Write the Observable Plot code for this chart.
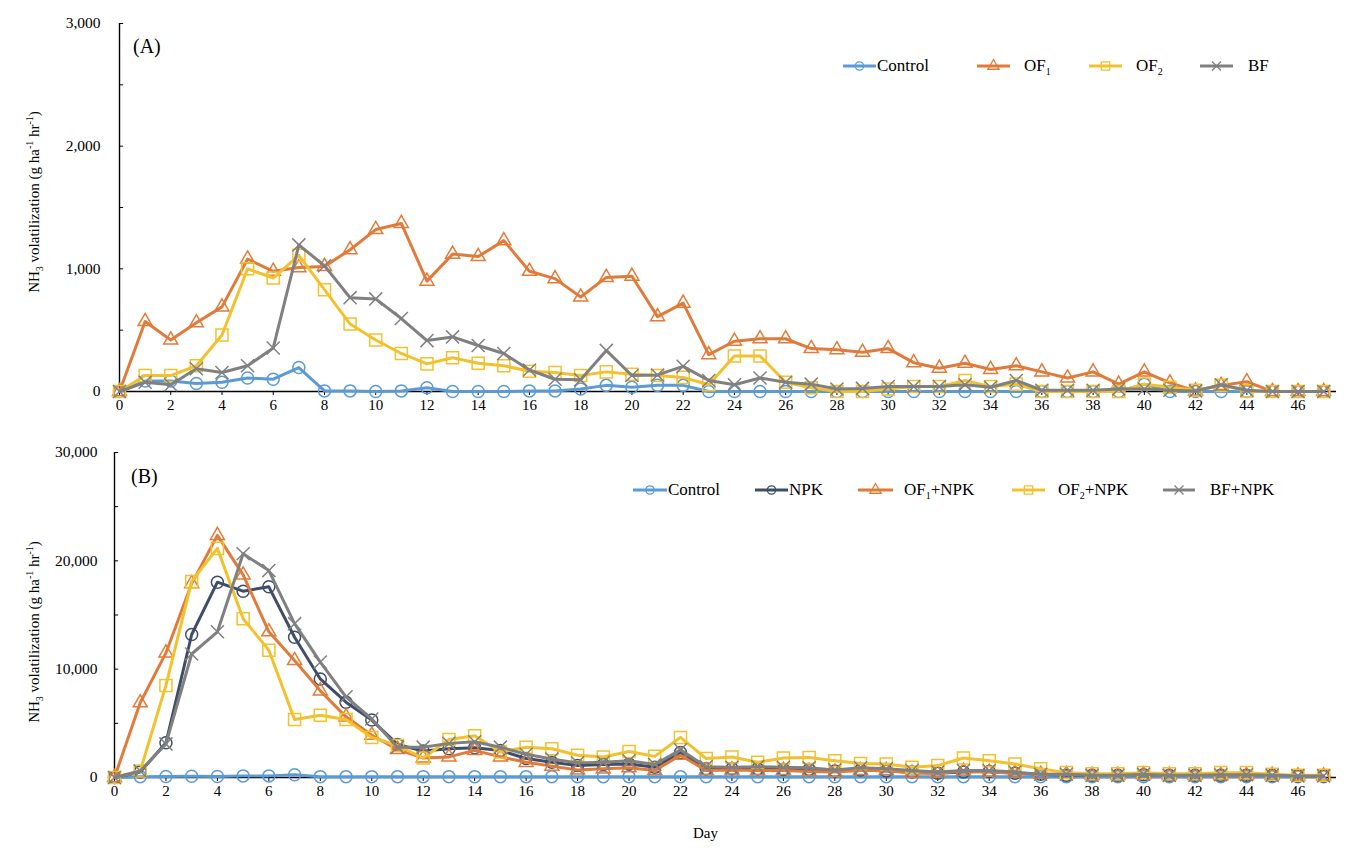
<!DOCTYPE html>
<html>
<head>
<meta charset="utf-8">
<script src="https://cdn.jsdelivr.net/npm/d3@7"></script>
<script src="https://cdn.jsdelivr.net/npm/@observablehq/plot@0.6"></script>
<style>
  html, body { margin: 0; padding: 0; background: #fff; }
  #wrap { position: relative; width: 1351px; height: 852px; color: #000; }
  #wrap svg.plot { position: absolute; left: 0; overflow: visible; }
  .lab { position: absolute; white-space: nowrap; line-height: 1; }
  .ytitle { position: absolute; white-space: nowrap; font-size: 15px; transform: translate(-50%, -50%) rotate(-90deg); line-height: 1; }
  .ytitle sub, .ytitle sup, .leg sub { font-size: 10px; line-height: 0; }
  .leg { position: absolute; display: flex; align-items: center; font-size: 17px; white-space: nowrap; }
</style>
</head>
<body>
<div id="wrap"></div>
<script>
// ---------- data ----------
const days = [0,1,2,3,4,5,6,7,8,9,10,11,12,13,14,15,16,17,18,19,20,21,22,23,24,25,26,27,28,29,30,31,32,33,34,35,36,37,38,39,40,41,42,43,44,45,46,47];
const xTickLabels = [0,2,4,6,8,10,12,14,16,18,20,22,24,26,28,30,32,34,36,38,40,42,44,46];

// Panel A (g ha-1 hr-1)
const seriesA = ["Control", "OF1", "OF2", "BF"];
const controlA = [0,85,85,65,75,110,100,195,5,5,0,5,30,0,0,0,5,5,20,50,35,50,50,0,0,0,0,0,0,0,0,0,0,0,0,0,0,0,0,0,60,0,0,0,0,0,0,0];
const of1A = [0,570,420,560,690,1080,980,1010,1020,1156,1320,1370,900,1120,1100,1230,980,920,770,930,940,610,720,300,410,430,430,350,340,320,350,235,190,230,180,210,160,110,160,60,160,70,5,50,80,0,0,0];
const of2A = [0,130,130,210,460,1000,925,1110,830,550,420,310,225,275,230,210,165,155,130,160,140,130,115,55,290,290,75,30,0,0,20,40,40,90,40,60,0,0,0,0,60,35,10,50,5,0,0,0];
const bfA = [0,75,55,185,155,210,355,1195,1025,765,755,595,415,445,375,310,175,100,95,335,130,135,205,90,55,110,75,60,20,25,40,40,40,55,35,90,10,10,10,20,20,10,5,55,10,0,0,0];
const yTicksA = [0,1000,2000,3000];
const yMinorA = [500,1500,2500];

// Panel B (g ha-1 hr-1)
const seriesB = ["Control", "NPK", "OF1+NPK", "OF2+NPK", "BF+NPK"];
const controlB = [0,80,100,110,100,150,150,250,80,80,80,80,80,80,80,80,80,80,80,80,80,80,80,80,80,80,80,80,80,80,80,80,80,80,80,80,80,80,80,80,80,80,80,80,80,80,80,80];
const npkB = [0,500,3200,13200,18030,17200,17600,12950,9100,6950,5300,3050,2450,2650,2750,2500,1750,1400,1100,1200,1250,950,2300,800,800,800,750,750,600,700,600,500,400,500,550,400,300,200,200,200,250,200,200,200,200,200,150,150];
const of1B = [0,6900,11500,17900,22350,18700,13450,10800,8000,5600,3900,2600,1800,1900,2500,1900,1400,1050,700,800,900,650,2050,650,700,650,650,550,500,650,650,400,400,600,500,400,300,300,200,200,250,200,200,200,200,200,150,150];
const of2B = [0,600,8500,18100,21150,14650,11750,5350,5750,5350,3700,2950,1800,3500,3850,2350,2800,2650,2050,1900,2400,1950,3700,1750,1900,1400,1800,1850,1550,1300,1250,950,1100,1800,1550,1250,800,450,350,350,450,350,350,450,450,300,200,200];
const bfB = [0,600,3100,11400,13450,20650,19100,14200,10650,7450,5400,2800,2800,3150,3300,2800,2150,1700,1350,1400,1550,1200,2550,1000,950,1000,950,900,700,900,800,650,500,650,650,500,300,300,200,200,300,200,200,250,250,200,150,150];
const yTicksB = [0,10000,20000,30000];
const yMinorB = [5000,15000,25000];

// ---------- font detection ----------
function fontAvailable(name) {
  const c = document.createElement("canvas").getContext("2d");
  const txt = "mmmmmmmmmmlli1,000 Control";
  const res = [];
  for (const base of ["monospace", "sans-serif"]) {
    c.font = `40px ${base}`;
    const w0 = c.measureText(txt).width;
    c.font = `40px "${name}", ${base}`;
    const w1 = c.measureText(txt).width;
    res.push(w0 !== w1);
  }
  return res[0] || res[1];
}
const candidates = ["Liberation Serif", "Times New Roman", "Tinos", "DejaVu Serif", "Noto Serif"];
const serifName = candidates.find(fontAvailable) || "serif";
const FONT = `"${serifName}", serif`;
document.getElementById("wrap").style.fontFamily = FONT;

// ---------- styles ----------
const style = {
  "Control": {color: "#5B9BD5", symbol: "circle", r: 6},
  "OF1": {color: "#E07B39", symbol: "triangle", r: 5.2},
  "OF2": {color: "#F2C12E", symbol: "square", r: 6.8},
  "BF": {color: "#808080", symbol: "times", r: 6},
  "NPK": {color: "#3F4E68", symbol: "circle", r: 6},
  "OF1+NPK": {color: "#E07B39", symbol: "triangle", r: 5.2},
  "OF2+NPK": {color: "#F2C12E", symbol: "square", r: 6.8},
  "BF+NPK": {color: "#808080", symbol: "times", r: 6}
};

function toRows(names, arrays) {
  return names.flatMap((s, i) => arrays[i].map((v, j) => ({day: days[j], value: v, series: s})));
}
const rowsA = toRows(seriesA, [controlA, of1A, of2A, bfA]);
const rowsB = toRows(seriesB, [controlB, npkB, of1B, of2B, bfB]);

const wrap = document.getElementById("wrap");

function panel(rows, names, opts) {
  const marks = [
    Plot.ruleY([0], {stroke: "#000", strokeWidth: 1.4}),
    Plot.ruleX([0], {stroke: "#000", strokeWidth: 1.4}),
    Plot.ruleY(opts.minor, {x1: 0, x2: 0.16, stroke: "#000", strokeWidth: 1}),
    Plot.ruleY(opts.ticks, {x1: 0, x2: 0.16, stroke: "#000", strokeWidth: 1}),
    Plot.axisX({ticks: xTickLabels, tickSize: 4, tickPadding: 4, fontSize: 15, tickFormat: d => String(d), label: null}),
    Plot.axisY({ticks: opts.ticks, tickSize: 0, tickPadding: opts.pad, fontSize: 15.5, tickFormat: d3.format(","), label: null})
  ];
  for (const s of names) {
    const st = style[s];
    const data = rows.filter(d => d.series === s);
    marks.push(Plot.line(data, {x: "day", y: "value", stroke: st.color, strokeWidth: 3, strokeLinejoin: "round"}));
    marks.push(Plot.dot(data, {x: "day", y: "value", symbol: () => st.symbol, r: st.r, stroke: st.color, fill: "none", strokeWidth: 1.5}));
  }
  const svg = Plot.plot({
    width: 1351,
    height: opts.height,
    marginTop: opts.mt,
    marginBottom: opts.mb,
    marginLeft: opts.ml,
    marginRight: 15,
    x: {domain: [0, 47.5]},
    y: {domain: [0, opts.max]},
    symbol: {type: "identity"},
    style: {fontFamily: FONT, color: "#000", background: "transparent"},
    marks
  });
  svg.classList.add("plot");
  svg.style.top = opts.top + "px";
  wrap.appendChild(svg);
}

panel(rowsA, seriesA, {height: 420, top: 0, mt: 23, mb: 29, ml: 119, max: 3000, ticks: yTicksA, minor: yMinorA, pad: 19});
panel(rowsB, seriesB, {height: 380, top: 430, mt: 22, mb: 33, ml: 114, max: 30000, ticks: yTicksB, minor: yMinorB, pad: 17});

// ---------- text ----------
function addLabel(html, x, y, size) {
  const d = document.createElement("div");
  d.className = "lab";
  d.innerHTML = html;
  d.style.left = x + "px";
  d.style.top = y + "px";
  d.style.fontSize = size + "px";
  wrap.appendChild(d);
}
addLabel("(A)", 133, 36, 20);
addLabel("(B)", 131, 466, 20);
addLabel("Day", 693, 826, 15);

function yTitle(cy) {
  const d = document.createElement("div");
  d.className = "ytitle";
  d.innerHTML = "NH<sub>3</sub> volatilization (g ha<sup>-1</sup> hr<sup>-1</sup>)";
  d.style.left = "34px";
  d.style.top = cy + "px";
  wrap.appendChild(d);
}
yTitle(202);
yTitle(632);

// ---------- legends ----------
const legendText = {
  "Control": "Control",
  "OF1": "OF<sub>1</sub>",
  "OF2": "OF<sub>2</sub>",
  "BF": "BF",
  "NPK": "NPK",
  "OF1+NPK": "OF<sub>1</sub>+NPK",
  "OF2+NPK": "OF<sub>2</sub>+NPK",
  "BF+NPK": "BF+NPK"
};
const symMap = {circle: d3.symbolCircle, triangle: d3.symbolTriangle, square: d3.symbolSquare, times: d3.symbolTimes};
function legendItem(s, x, y, lineW, gap) {
  const st = style[s];
  const el = document.createElement("div");
  el.className = "leg";
  el.style.left = x + "px";
  el.style.top = (y - 10) + "px";
  el.style.height = "20px";
  const sw = d3.create("svg").attr("width", lineW).attr("height", 20).style("overflow", "visible");
  sw.append("line").attr("x1", 0).attr("x2", lineW).attr("y1", 10).attr("y2", 10).attr("stroke", st.color).attr("stroke-width", 3);
  const size = st.symbol === "square" ? 70 : 55;
  sw.append("path").attr("d", d3.symbol(symMap[st.symbol], size)()).attr("transform", `translate(${lineW/2},10)`)
    .attr("fill", "none").attr("stroke", st.color).attr("stroke-width", 1.3);
  el.appendChild(sw.node());
  const t = document.createElement("span");
  t.innerHTML = legendText[s];
  t.style.marginLeft = gap + "px";
  el.appendChild(t);
  wrap.appendChild(el);
}
legendItem("Control", 843, 66, 33, 1);
legendItem("OF1", 977, 66, 33, 14);
legendItem("OF2", 1089, 66, 33, 14);
legendItem("BF", 1200, 66, 33, 15);

legendItem("Control", 633, 490, 34, 1);
legendItem("NPK", 755, 490, 33, 1);
legendItem("OF1+NPK", 858, 490, 35, 11);
legendItem("OF2+NPK", 1012, 490, 33, 13);
legendItem("BF+NPK", 1163, 490, 32, 15);
</script>
</body>
</html>
